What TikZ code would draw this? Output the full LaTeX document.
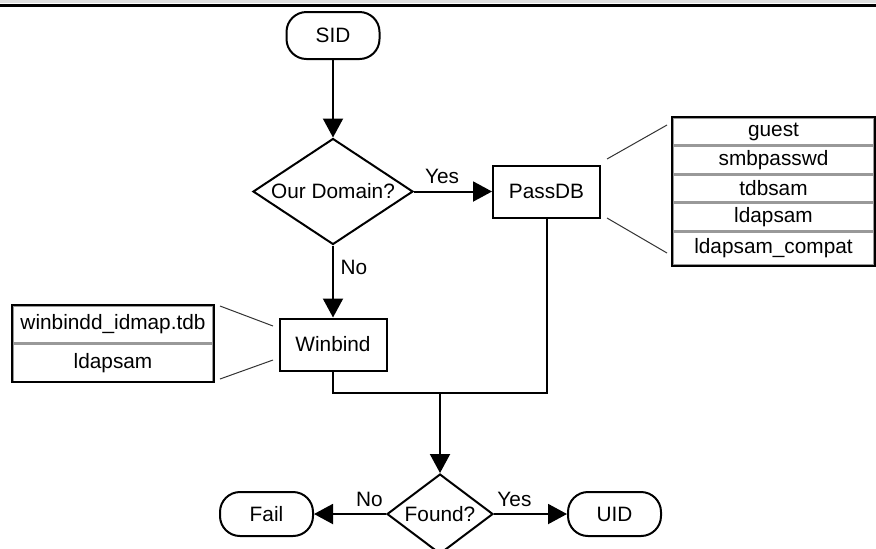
\documentclass[tikz,border=0pt]{standalone}
\usepackage{fontspec}
\setmainfont{Liberation Sans}
\usetikzlibrary{shapes.geometric,arrows.meta,positioning}
\tikzset{
  every node/.style={font=\fontsize{10.4}{12}\selectfont},
  flow/.style={line width=1pt,-{Triangle[length=9.5pt,width=10pt]}},
  term/.style={draw,line width=1pt,rounded corners=10pt,minimum width=46.5pt,minimum height=22pt},
  decision/.style={draw,diamond,aspect=1.5,line width=1pt,inner sep=0pt,minimum width=80pt,minimum height=53pt},
  process/.style={draw,line width=1pt,minimum width=53.5pt,minimum height=26pt},
  cell/.style={draw=gray!80,line width=0.75pt,minimum width=100.5pt,minimum height=13.5pt,inner sep=0pt},
  thinline/.style={line width=0.5pt,black!80}
}

\begin{document}
\begin{tikzpicture}[x=0.5pt,y=-0.5pt]
\useasboundingbox (0,0) rectangle (876,548);
\clip (0,0) rectangle (876,548);
\fill[gray!25] (0,0) rectangle (876,3);
\draw[line width=1.5pt] (0,5) -- (876,5);

\node[term,minimum height=23.5pt] (sid) at (333,35.5) {SID};
\node[decision] (dom) at (333,191.5) {Our Domain?};
\node[process] (passdb) at (546.5,191.5) {PassDB};
\node[process] (winbind) at (333,344.5) {Winbind};
\node[decision,minimum width=53pt,minimum height=40pt] (found) at (440,514) {Found?};
\node[term] (fail) at (266.5,514) {Fail};
\node[term] (uid) at (614.5,514) {UID};
\coordinate (merge) at (440,393);

\draw[flow] (sid) -- (dom);
\draw[flow] (dom) -- node[above,pos=0.36]{Yes} (passdb);
\draw[flow] (dom) -- node[right,pos=0.3]{No} (winbind);
\draw[line width=1pt] (winbind) |- (merge) -| (passdb);
\draw[flow] (merge) -- (found);
\draw[flow] (found) -- node[above,pos=0.23]{No} (fail);
\draw[flow] (found) -- node[above,pos=0.28]{Yes} (uid);

% passdb backends
\node[cell] (guest) at (773.5,131.5) {guest};
\node[cell,below=0pt of guest] (smbpasswd) {smbpasswd};
\node[cell,below=0pt of smbpasswd] (tdbsam) {tdbsam};
\node[cell,below=0pt of tdbsam] (ldapsam) {ldapsam};
\node[cell,below=0pt of ldapsam,minimum height=16.5pt] (compat) {ldapsam\_compat};
\draw[line width=1pt] (guest.north west) rectangle (compat.south east);
\coordinate (pt1) at (607,159);
\coordinate (pt2) at (667,125);
\coordinate (pb1) at (607,218);
\coordinate (pb2) at (667,253);
\draw[thinline] (pt1) -- (pt2);
\draw[thinline] (pb1) -- (pb2);

% winbind backends
\node[cell,minimum width=100pt,minimum height=18.5pt] (idmap) at (113,324.5) {winbindd\_idmap.tdb};
\node[cell,minimum width=100pt,minimum height=18.5pt,below=0pt of idmap] (wldap) {ldapsam};
\draw[line width=1pt] (idmap.north west) rectangle (wldap.south east);
\coordinate (wt1) at (273,326);
\coordinate (wt2) at (220,306);
\coordinate (wb1) at (273,360);
\coordinate (wb2) at (220,379);
\draw[thinline] (wt1) -- (wt2);
\draw[thinline] (wb1) -- (wb2);
\end{tikzpicture}
\end{document}
